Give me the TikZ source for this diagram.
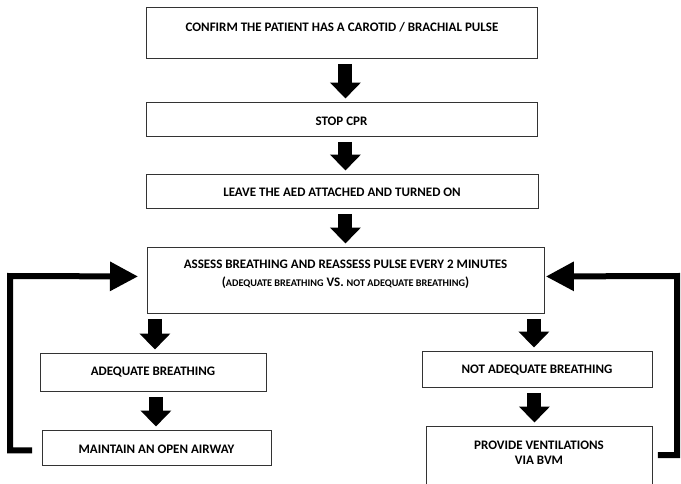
\documentclass[tikz,border=0pt]{standalone}
\usepackage{fontspec}
\setmainfont{Carlito}
\usetikzlibrary{arrows.meta,calc}
\begin{document}
\begin{tikzpicture}[x=1pt,y=-1pt,
  box/.style={draw=black!80, line width=0.9pt, inner sep=0pt, anchor=north west},
  lbl/.style={font=\fontsize{13}{15}\selectfont\bfseries, align=center, inner sep=0pt},
  flow/.style={line width=14pt, -{Triangle[width=30pt,length=16pt]},
               shorten <=5pt, shorten >=3.5pt},
  loopback/.style={line width=6pt, line join=miter, -{Triangle[width=28pt,length=28pt]}}
]
\useasboundingbox (0,0) rectangle (681,483);
\clip (0,0) rectangle (681,483);

% main column
\node[box, minimum width=391pt, minimum height=51pt] (confirm) at (146,7) {};
\node[lbl] (confirm-t) at (342,27) {CONFIRM THE PATIENT HAS A CAROTID / BRACHIAL PULSE};

\node[box, minimum width=391pt, minimum height=34pt] (stop) at (146,102) {};
\node[lbl] (stop-t) at (341.5,121) {STOP CPR};

\node[box, minimum width=392pt, minimum height=34pt] (leave) at (146,174) {};
\node[lbl] (leave-t) at (342,192) {LEAVE THE AED ATTACHED AND TURNED ON};

\node[box, minimum width=397pt, minimum height=66pt] (assess) at (147,247) {};
\node[lbl, font=\fontsize{13}{18}\selectfont\bfseries] (assess-t) at (345.5,274)
  {ASSESS BREATHING AND REASSESS PULSE EVERY 2 MINUTES\\
   ({\fontsize{10.2}{12}\selectfont ADEQUATE BREATHING} VS. {\fontsize{10.2}{12}\selectfont NOT ADEQUATE BREATHING})};

% left branch
\node[box, minimum width=226pt, minimum height=38pt] (adeq) at (40,353) {};
\node[lbl] (adeq-t) at (153,372) {ADEQUATE BREATHING};

\node[box, minimum width=229pt, minimum height=35pt] (maint) at (42,430) {};
\node[lbl] (maint-t) at (156.5,449) {MAINTAIN AN OPEN AIRWAY};

% right branch
\node[box, minimum width=230pt, minimum height=36pt] (notadeq) at (422,351) {};
\node[lbl] (notadeq-t) at (537,370) {NOT ADEQUATE BREATHING};

\node[box, minimum width=226pt, minimum height=70pt] (prov) at (426,426) {};
\node[lbl, font=\fontsize{13}{15}\selectfont\bfseries] (prov-t) at (539,452.5)
  {PROVIDE VENTILATIONS\\VIA BVM};

% block arrows
\draw[flow] ($(confirm.south)+(3.5,0)$) -- ($(stop.north)+(3.5,0)$);
\draw[flow] ($(stop.south)+(3.5,0)$) -- ($(leave.north)+(3,0)$);
\draw[flow] ($(leave.south)+(3,0)$) -- ($(assess.north)+(-0.5,0)$);
\draw[flow] (assess.south -| adeq.north) ++(1.5,0) -- ($(adeq.north)+(1.5,0)$);
\draw[flow] ($(adeq.south)+(2.5,0)$) -- ($(maint.north)+(-1,0)$);
\draw[flow] (assess.south -| notadeq.north) ++(-3.5,0) -- ($(notadeq.north)+(-3.5,0)$);
\draw[flow] ($(notadeq.south)+(-3,0)$) -- ($(prov.north)+(-5,0)$);

% loop-back connectors
\coordinate (lcorner) at (10,276);
\coordinate (rcorner) at (677,276);
\draw[loopback] ($(maint.west)+(-10,2.5)$) -| (lcorner) -- ($(assess.west)+(-9,-4)$);
\draw[loopback] ($(prov.north east)+(5,29)$) -| (rcorner) -- ($(assess.east)+(1,-4)$);
\end{tikzpicture}
\end{document}
